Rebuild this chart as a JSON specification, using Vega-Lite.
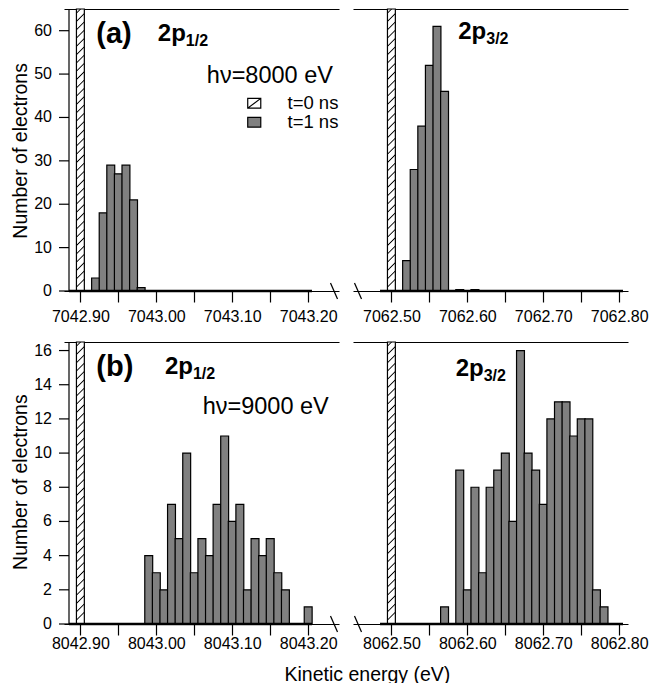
{
"$schema": "https://vega.github.io/schema/vega-lite/v6.json",
"background": "white",
"padding": {"left": 10, "top": 8, "right": 0, "bottom": 0},
"config": {
  "view": {"stroke": null},
  "font": "Liberation Sans",
  "axis": {"grid": false, "domainColor": "black", "tickColor": "black", "labelColor": "black", "titleColor": "black", "labelFont": "Liberation Sans", "titleFont": "Liberation Sans", "labelFontSize": 16, "titleFontSize": 19.5, "titleFontWeight": "normal", "domainWidth": 1.2, "tickWidth": 1.2, "labelFlush": false, "labelOverlap": false}
},
"datasets": {"h": [
  {"p":"a1","t":"t=0 ns","e":7042.90,"n":128},
  {"p":"a1","t":"t=1 ns","e":7042.92,"n":3},
  {"p":"a1","t":"t=1 ns","e":7042.93,"n":18},
  {"p":"a1","t":"t=1 ns","e":7042.94,"n":29},
  {"p":"a1","t":"t=1 ns","e":7042.95,"n":27},
  {"p":"a1","t":"t=1 ns","e":7042.96,"n":29},
  {"p":"a1","t":"t=1 ns","e":7042.97,"n":21},
  {"p":"a1","t":"t=1 ns","e":7042.98,"n":0.8},
  {"p":"a2","t":"t=0 ns","e":7062.50,"n":232},
  {"p":"a2","t":"t=1 ns","e":7062.52,"n":7},
  {"p":"a2","t":"t=1 ns","e":7062.53,"n":28},
  {"p":"a2","t":"t=1 ns","e":7062.54,"n":38},
  {"p":"a2","t":"t=1 ns","e":7062.55,"n":52},
  {"p":"a2","t":"t=1 ns","e":7062.56,"n":61},
  {"p":"a2","t":"t=1 ns","e":7062.57,"n":46},
  {"p":"a2","t":"t=1 ns","e":7062.59,"n":0.3},
  {"p":"a2","t":"t=1 ns","e":7062.61,"n":0.3},
  {"p":"b1","t":"t=0 ns","e":8042.90,"n":96},
  {"p":"b1","t":"t=1 ns","e":8042.99,"n":4},
  {"p":"b1","t":"t=1 ns","e":8043.00,"n":3},
  {"p":"b1","t":"t=1 ns","e":8043.01,"n":2},
  {"p":"b1","t":"t=1 ns","e":8043.02,"n":7},
  {"p":"b1","t":"t=1 ns","e":8043.03,"n":5},
  {"p":"b1","t":"t=1 ns","e":8043.04,"n":10},
  {"p":"b1","t":"t=1 ns","e":8043.05,"n":3},
  {"p":"b1","t":"t=1 ns","e":8043.06,"n":5},
  {"p":"b1","t":"t=1 ns","e":8043.07,"n":4},
  {"p":"b1","t":"t=1 ns","e":8043.08,"n":7},
  {"p":"b1","t":"t=1 ns","e":8043.09,"n":11},
  {"p":"b1","t":"t=1 ns","e":8043.10,"n":6},
  {"p":"b1","t":"t=1 ns","e":8043.11,"n":7},
  {"p":"b1","t":"t=1 ns","e":8043.12,"n":2},
  {"p":"b1","t":"t=1 ns","e":8043.13,"n":5},
  {"p":"b1","t":"t=1 ns","e":8043.14,"n":4},
  {"p":"b1","t":"t=1 ns","e":8043.15,"n":5},
  {"p":"b1","t":"t=1 ns","e":8043.16,"n":3},
  {"p":"b1","t":"t=1 ns","e":8043.17,"n":2},
  {"p":"b1","t":"t=1 ns","e":8043.20,"n":1},
  {"p":"b2","t":"t=0 ns","e":8062.50,"n":174},
  {"p":"b2","t":"t=1 ns","e":8062.57,"n":1},
  {"p":"b2","t":"t=1 ns","e":8062.59,"n":9},
  {"p":"b2","t":"t=1 ns","e":8062.60,"n":2},
  {"p":"b2","t":"t=1 ns","e":8062.61,"n":8},
  {"p":"b2","t":"t=1 ns","e":8062.62,"n":3},
  {"p":"b2","t":"t=1 ns","e":8062.63,"n":8},
  {"p":"b2","t":"t=1 ns","e":8062.64,"n":9},
  {"p":"b2","t":"t=1 ns","e":8062.65,"n":10},
  {"p":"b2","t":"t=1 ns","e":8062.66,"n":6},
  {"p":"b2","t":"t=1 ns","e":8062.67,"n":16},
  {"p":"b2","t":"t=1 ns","e":8062.68,"n":10},
  {"p":"b2","t":"t=1 ns","e":8062.69,"n":9},
  {"p":"b2","t":"t=1 ns","e":8062.70,"n":7},
  {"p":"b2","t":"t=1 ns","e":8062.71,"n":12},
  {"p":"b2","t":"t=1 ns","e":8062.72,"n":13},
  {"p":"b2","t":"t=1 ns","e":8062.73,"n":13},
  {"p":"b2","t":"t=1 ns","e":8062.74,"n":11},
  {"p":"b2","t":"t=1 ns","e":8062.75,"n":12},
  {"p":"b2","t":"t=1 ns","e":8062.76,"n":12},
  {"p":"b2","t":"t=1 ns","e":8062.77,"n":2},
  {"p":"b2","t":"t=1 ns","e":8062.78,"n":1}
]},
"width": 564,
"height": 615,
"data": {"name": "h"},
"resolve": {"scale": {"x": "independent", "y": "independent"}, "axis": {"x": "independent", "y": "independent"}},
"layer": [
 {"layer": [
   {"transform": [{"filter": "datum.p == 'a1' && datum.t == 't=1 ns'"}],
    "mark": {"type": "bar", "orient": "vertical", "width": 7.9, "stroke": "black", "strokeWidth": 1.2, "fill": "#808080"},
    "encoding": {
     "x": {"field": "e", "type": "quantitative", "scale": {"domain": [7042.885, 7043.234], "range": [0, 275], "nice": false, "zero": false},
           "axis": {"orient": "bottom", "offset": -333, "values": [7042.9, 7042.95, 7043.0, 7043.05, 7043.1, 7043.15, 7043.2], "labelExpr": "round(datum.value*100)%10==0 ? format(datum.value,'.2f') : ''", "title": null, "tickSize": 11, "labelPadding": 6}},
     "y": {"field": "n", "type": "quantitative", "scale": {"domain": [0, 65], "range": [282, 0], "nice": false, "zero": true, "clamp": true}, "axis": null},
     "color": {"field": "t", "type": "nominal", "scale": {"domain": ["t=0 ns", "t=1 ns"], "range": ["#ffffff", "#808080"]},
               "legend": {"orient": "none", "legendX": 181, "legendY": 85, "title": null, "padding": 0, "symbolType": "M-1,-0.75H1V0.75H-1Z", "symbolSize": 170, "symbolStrokeColor": "black", "symbolStrokeWidth": 1.2, "labelFontSize": 18.5, "labelFont": "Liberation Sans", "labelColor": "black", "labelOffset": 24, "rowPadding": -1,
                 "encoding": {"symbols": {"stroke": {"value": "black"}, "strokeWidth": {"value": 1.2},
                   "shape": {"condition": {"test": "datum.value == 't=0 ns'", "value": "M-1,-0.75H1V0.75H-1Z M-1,0.75L1,-0.75"}, "value": "M-1,-0.75H1V0.75H-1Z"},
                   "fill": {"condition": {"test": "datum.value == 't=0 ns'", "value": "#ffffff"}, "value": "#808080"}}}}}
    }},
   {"transform": [{"filter": "datum.p == 'a1' && datum.t == 't=0 ns'"}],
    "mark": {"type": "bar", "orient": "vertical", "width": 7.9, "stroke": "black", "strokeWidth": 1.2,
      "fill": {"gradient": "linear", "x1": 0, "y1": 0, "x2": 0.028, "y2": 1, "stops": [{"offset":0,"color":"#fff"},{"offset":0.0102,"color":"#fff"},{"offset":0.0147,"color":"#000"},{"offset":0.0192,"color":"#fff"},{"offset":0.0396,"color":"#fff"},{"offset":0.0441,"color":"#000"},{"offset":0.0486,"color":"#fff"},{"offset":0.0690,"color":"#fff"},{"offset":0.0735,"color":"#000"},{"offset":0.0780,"color":"#fff"},{"offset":0.0984,"color":"#fff"},{"offset":0.1029,"color":"#000"},{"offset":0.1074,"color":"#fff"},{"offset":0.1279,"color":"#fff"},{"offset":0.1324,"color":"#000"},{"offset":0.1369,"color":"#fff"},{"offset":0.1573,"color":"#fff"},{"offset":0.1618,"color":"#000"},{"offset":0.1663,"color":"#fff"},{"offset":0.1867,"color":"#fff"},{"offset":0.1912,"color":"#000"},{"offset":0.1957,"color":"#fff"},{"offset":0.2161,"color":"#fff"},{"offset":0.2206,"color":"#000"},{"offset":0.2251,"color":"#fff"},{"offset":0.2455,"color":"#fff"},{"offset":0.25,"color":"#000"},{"offset":0.2545,"color":"#fff"},{"offset":0.2749,"color":"#fff"},{"offset":0.2794,"color":"#000"},{"offset":0.2839,"color":"#fff"},{"offset":0.3043,"color":"#fff"},{"offset":0.3088,"color":"#000"},{"offset":0.3133,"color":"#fff"},{"offset":0.3337,"color":"#fff"},{"offset":0.3382,"color":"#000"},{"offset":0.3427,"color":"#fff"},{"offset":0.3631,"color":"#fff"},{"offset":0.3676,"color":"#000"},{"offset":0.3721,"color":"#fff"},{"offset":0.3926,"color":"#fff"},{"offset":0.3971,"color":"#000"},{"offset":0.4016,"color":"#fff"},{"offset":0.4220,"color":"#fff"},{"offset":0.4265,"color":"#000"},{"offset":0.4310,"color":"#fff"},{"offset":0.4514,"color":"#fff"},{"offset":0.4559,"color":"#000"},{"offset":0.4604,"color":"#fff"},{"offset":0.4808,"color":"#fff"},{"offset":0.4853,"color":"#000"},{"offset":0.4898,"color":"#fff"},{"offset":0.5102,"color":"#fff"},{"offset":0.5147,"color":"#000"},{"offset":0.5192,"color":"#fff"},{"offset":0.5396,"color":"#fff"},{"offset":0.5441,"color":"#000"},{"offset":0.5486,"color":"#fff"},{"offset":0.5690,"color":"#fff"},{"offset":0.5735,"color":"#000"},{"offset":0.5780,"color":"#fff"},{"offset":0.5984,"color":"#fff"},{"offset":0.6029,"color":"#000"},{"offset":0.6074,"color":"#fff"},{"offset":0.6279,"color":"#fff"},{"offset":0.6324,"color":"#000"},{"offset":0.6369,"color":"#fff"},{"offset":0.6573,"color":"#fff"},{"offset":0.6618,"color":"#000"},{"offset":0.6663,"color":"#fff"},{"offset":0.6867,"color":"#fff"},{"offset":0.6912,"color":"#000"},{"offset":0.6957,"color":"#fff"},{"offset":0.7161,"color":"#fff"},{"offset":0.7206,"color":"#000"},{"offset":0.7251,"color":"#fff"},{"offset":0.7455,"color":"#fff"},{"offset":0.75,"color":"#000"},{"offset":0.7545,"color":"#fff"},{"offset":0.7749,"color":"#fff"},{"offset":0.7794,"color":"#000"},{"offset":0.7839,"color":"#fff"},{"offset":0.8043,"color":"#fff"},{"offset":0.8088,"color":"#000"},{"offset":0.8133,"color":"#fff"},{"offset":0.8337,"color":"#fff"},{"offset":0.8382,"color":"#000"},{"offset":0.8427,"color":"#fff"},{"offset":0.8631,"color":"#fff"},{"offset":0.8676,"color":"#000"},{"offset":0.8721,"color":"#fff"},{"offset":0.8926,"color":"#fff"},{"offset":0.8971,"color":"#000"},{"offset":0.9016,"color":"#fff"},{"offset":0.9220,"color":"#fff"},{"offset":0.9265,"color":"#000"},{"offset":0.9310,"color":"#fff"},{"offset":0.9514,"color":"#fff"},{"offset":0.9559,"color":"#000"},{"offset":0.9604,"color":"#fff"},{"offset":0.9808,"color":"#fff"},{"offset":0.9853,"color":"#000"},{"offset":0.9898,"color":"#fff"},{"offset":1,"color":"#fff"}]}},
    "encoding": {
     "x": {"field": "e", "type": "quantitative", "axis": {"orient": "top", "labels": false, "ticks": false, "title": null, "domain": true}},
     "y": {"field": "n", "type": "quantitative", "axis": null}
    }},
   {"data": {"values": [{}]}, "mark": {"type": "rule", "strokeWidth": 1.2, "color": "black"},
    "encoding": {"x": {"datum": 7042.885, "type": "quantitative", "axis": null}, "y": {"datum": 0, "type": "quantitative", "axis": null}, "y2": {"datum": 65}}},
   {"data": {"values": [{"v":0},{"v":10},{"v":20},{"v":30},{"v":40},{"v":50},{"v":60}]}, "mark": {"type": "rule", "strokeWidth": 1.2, "color": "black", "xOffset": -10},
    "encoding": {"x": {"datum": 7042.885, "type": "quantitative", "axis": null}, "x2": {"datum": 7042.885}, "y": {"field": "v", "type": "quantitative", "axis": null}}},
   {"data": {"values": [{"v":0},{"v":10},{"v":20},{"v":30},{"v":40},{"v":50},{"v":60}]}, "mark": {"type": "text", "align": "right", "baseline": "middle", "fontSize": 16, "color": "black", "xOffset": -17},
    "encoding": {"x": {"datum": 7042.885, "type": "quantitative", "axis": null}, "y": {"field": "v", "type": "quantitative", "axis": null}, "text": {"field": "v", "type": "quantitative", "format": "d"}}},
   {"data": {"values": [{}]}, "mark": {"type": "text", "text": "Number of electrons", "angle": 270, "align": "center", "baseline": "alphabetic", "fontSize": 19.5, "color": "black", "xOffset": -42},
    "encoding": {"x": {"datum": 7042.885, "type": "quantitative", "axis": null}, "y": {"datum": 32.3, "type": "quantitative", "axis": null}}},
   {"data": {"values": [{}]}, "mark": {"type": "rule", "strokeWidth": 2.5, "color": "black"},
    "encoding": {"x": {"datum": 7042.885, "type": "quantitative", "axis": null}, "x2": {"datum": 7043.205}, "y": {"datum": 0, "type": "quantitative", "axis": null}}},
   {"data": {"values": [{}]}, "mark": {"type": "rule", "strokeWidth": 1.2, "color": "black", "xOffset": -3.5, "x2Offset": 3.5, "yOffset": -8, "y2Offset": 8},
    "encoding": {"x": {"datum": 7043.234, "type": "quantitative", "axis": null}, "x2": {"datum": 7043.234}, "y": {"datum": 0, "type": "quantitative", "axis": null}, "y2": {"datum": 0}}},
   {"data": {"values": [{}]}, "mark": {"type": "text", "text": "(a)", "fontSize": 29, "fontWeight": "bold", "align": "left", "baseline": "middle"},
    "encoding": {"x": {"datum": 7042.921, "type": "quantitative", "axis": null}, "y": {"datum": 59.2, "type": "quantitative", "axis": null}}},
   {"data": {"values": [{}]}, "mark": {"type": "text", "text": "2p", "fontSize": 24, "fontWeight": "bold", "align": "left", "baseline": "alphabetic"},
    "encoding": {"x": {"datum": 7043.002, "type": "quantitative", "axis": null}, "y": {"datum": 57.6, "type": "quantitative", "axis": null}}},
   {"data": {"values": [{}]}, "mark": {"type": "text", "text": "1/2", "fontSize": 16, "fontWeight": "bold", "align": "left", "baseline": "alphabetic", "dx": 28, "dy": 5},
    "encoding": {"x": {"datum": 7043.002, "type": "quantitative", "axis": null}, "y": {"datum": 57.6, "type": "quantitative", "axis": null}}},
   {"data": {"values": [{}]}, "mark": {"type": "text", "text": "hν=8000 eV", "fontSize": 23.5, "align": "left", "baseline": "alphabetic"},
    "encoding": {"x": {"datum": 7043.0665, "type": "quantitative", "axis": null}, "y": {"datum": 47.9, "type": "quantitative", "axis": null}}}
 ]},
 {"layer": [
   {"transform": [{"filter": "datum.p == 'a2' && datum.t == 't=1 ns'"}],
    "mark": {"type": "bar", "orient": "vertical", "width": 7.9, "stroke": "black", "strokeWidth": 1.2, "fill": "#808080"},
    "encoding": {
     "x": {"field": "e", "type": "quantitative", "scale": {"domain": [7062.456, 7062.805], "range": [289, 564], "nice": false, "zero": false},
           "axis": {"orient": "bottom", "offset": -333, "values": [7062.5, 7062.55, 7062.6, 7062.65, 7062.7, 7062.75, 7062.8], "labelExpr": "round(datum.value*100)%10==0 ? format(datum.value,'.2f') : ''", "title": null, "tickSize": 11, "labelPadding": 6}},
     "y": {"field": "n", "type": "quantitative", "scale": {"domain": [0, 65], "range": [282, 0], "nice": false, "zero": true, "clamp": true},
           "axis": {"orient": "right", "labels": false, "ticks": false, "title": null, "domain": true}}
    }},
   {"transform": [{"filter": "datum.p == 'a2' && datum.t == 't=0 ns'"}],
    "mark": {"type": "bar", "orient": "vertical", "width": 7.9, "stroke": "black", "strokeWidth": 1.2,
      "fill": {"gradient": "linear", "x1": 0, "y1": 0, "x2": 0.028, "y2": 1, "stops": [{"offset":0,"color":"#fff"},{"offset":0.0102,"color":"#fff"},{"offset":0.0147,"color":"#000"},{"offset":0.0192,"color":"#fff"},{"offset":0.0396,"color":"#fff"},{"offset":0.0441,"color":"#000"},{"offset":0.0486,"color":"#fff"},{"offset":0.0690,"color":"#fff"},{"offset":0.0735,"color":"#000"},{"offset":0.0780,"color":"#fff"},{"offset":0.0984,"color":"#fff"},{"offset":0.1029,"color":"#000"},{"offset":0.1074,"color":"#fff"},{"offset":0.1279,"color":"#fff"},{"offset":0.1324,"color":"#000"},{"offset":0.1369,"color":"#fff"},{"offset":0.1573,"color":"#fff"},{"offset":0.1618,"color":"#000"},{"offset":0.1663,"color":"#fff"},{"offset":0.1867,"color":"#fff"},{"offset":0.1912,"color":"#000"},{"offset":0.1957,"color":"#fff"},{"offset":0.2161,"color":"#fff"},{"offset":0.2206,"color":"#000"},{"offset":0.2251,"color":"#fff"},{"offset":0.2455,"color":"#fff"},{"offset":0.25,"color":"#000"},{"offset":0.2545,"color":"#fff"},{"offset":0.2749,"color":"#fff"},{"offset":0.2794,"color":"#000"},{"offset":0.2839,"color":"#fff"},{"offset":0.3043,"color":"#fff"},{"offset":0.3088,"color":"#000"},{"offset":0.3133,"color":"#fff"},{"offset":0.3337,"color":"#fff"},{"offset":0.3382,"color":"#000"},{"offset":0.3427,"color":"#fff"},{"offset":0.3631,"color":"#fff"},{"offset":0.3676,"color":"#000"},{"offset":0.3721,"color":"#fff"},{"offset":0.3926,"color":"#fff"},{"offset":0.3971,"color":"#000"},{"offset":0.4016,"color":"#fff"},{"offset":0.4220,"color":"#fff"},{"offset":0.4265,"color":"#000"},{"offset":0.4310,"color":"#fff"},{"offset":0.4514,"color":"#fff"},{"offset":0.4559,"color":"#000"},{"offset":0.4604,"color":"#fff"},{"offset":0.4808,"color":"#fff"},{"offset":0.4853,"color":"#000"},{"offset":0.4898,"color":"#fff"},{"offset":0.5102,"color":"#fff"},{"offset":0.5147,"color":"#000"},{"offset":0.5192,"color":"#fff"},{"offset":0.5396,"color":"#fff"},{"offset":0.5441,"color":"#000"},{"offset":0.5486,"color":"#fff"},{"offset":0.5690,"color":"#fff"},{"offset":0.5735,"color":"#000"},{"offset":0.5780,"color":"#fff"},{"offset":0.5984,"color":"#fff"},{"offset":0.6029,"color":"#000"},{"offset":0.6074,"color":"#fff"},{"offset":0.6279,"color":"#fff"},{"offset":0.6324,"color":"#000"},{"offset":0.6369,"color":"#fff"},{"offset":0.6573,"color":"#fff"},{"offset":0.6618,"color":"#000"},{"offset":0.6663,"color":"#fff"},{"offset":0.6867,"color":"#fff"},{"offset":0.6912,"color":"#000"},{"offset":0.6957,"color":"#fff"},{"offset":0.7161,"color":"#fff"},{"offset":0.7206,"color":"#000"},{"offset":0.7251,"color":"#fff"},{"offset":0.7455,"color":"#fff"},{"offset":0.75,"color":"#000"},{"offset":0.7545,"color":"#fff"},{"offset":0.7749,"color":"#fff"},{"offset":0.7794,"color":"#000"},{"offset":0.7839,"color":"#fff"},{"offset":0.8043,"color":"#fff"},{"offset":0.8088,"color":"#000"},{"offset":0.8133,"color":"#fff"},{"offset":0.8337,"color":"#fff"},{"offset":0.8382,"color":"#000"},{"offset":0.8427,"color":"#fff"},{"offset":0.8631,"color":"#fff"},{"offset":0.8676,"color":"#000"},{"offset":0.8721,"color":"#fff"},{"offset":0.8926,"color":"#fff"},{"offset":0.8971,"color":"#000"},{"offset":0.9016,"color":"#fff"},{"offset":0.9220,"color":"#fff"},{"offset":0.9265,"color":"#000"},{"offset":0.9310,"color":"#fff"},{"offset":0.9514,"color":"#fff"},{"offset":0.9559,"color":"#000"},{"offset":0.9604,"color":"#fff"},{"offset":0.9808,"color":"#fff"},{"offset":0.9853,"color":"#000"},{"offset":0.9898,"color":"#fff"},{"offset":1,"color":"#fff"}]}},
    "encoding": {
     "x": {"field": "e", "type": "quantitative", "axis": {"orient": "top", "labels": false, "ticks": false, "title": null, "domain": true}},
     "y": {"field": "n", "type": "quantitative", "axis": null}
    }},
   {"data": {"values": [{}]}, "mark": {"type": "rule", "strokeWidth": 2.5, "color": "black"},
    "encoding": {"x": {"datum": 7062.485, "type": "quantitative", "axis": null}, "x2": {"datum": 7062.805}, "y": {"datum": 0, "type": "quantitative", "axis": null}}},
   {"data": {"values": [{}]}, "mark": {"type": "rule", "strokeWidth": 1.2, "color": "black", "xOffset": -3.5, "x2Offset": 3.5, "yOffset": -8, "y2Offset": 8},
    "encoding": {"x": {"datum": 7062.456, "type": "quantitative", "axis": null}, "x2": {"datum": 7062.456}, "y": {"datum": 0, "type": "quantitative", "axis": null}, "y2": {"datum": 0}}},
   {"data": {"values": [{}]}, "mark": {"type": "text", "text": "2p", "fontSize": 24, "fontWeight": "bold", "align": "left", "baseline": "alphabetic"},
    "encoding": {"x": {"datum": 7062.588, "type": "quantitative", "axis": null}, "y": {"datum": 58.1, "type": "quantitative", "axis": null}}},
   {"data": {"values": [{}]}, "mark": {"type": "text", "text": "3/2", "fontSize": 16, "fontWeight": "bold", "align": "left", "baseline": "alphabetic", "dx": 28, "dy": 5},
    "encoding": {"x": {"datum": 7062.588, "type": "quantitative", "axis": null}, "y": {"datum": 58.1, "type": "quantitative", "axis": null}}}
 ]},
 {"layer": [
   {"transform": [{"filter": "datum.p == 'b1' && datum.t == 't=1 ns'"}],
    "mark": {"type": "bar", "orient": "vertical", "width": 7.9, "stroke": "black", "strokeWidth": 1.2, "fill": "#808080"},
    "encoding": {
     "x": {"field": "e", "type": "quantitative", "scale": {"domain": [8042.885, 8043.234], "range": [0, 275], "nice": false, "zero": false},
           "axis": {"orient": "bottom", "values": [8042.9, 8042.95, 8043.0, 8043.05, 8043.1, 8043.15, 8043.2], "labelExpr": "round(datum.value*100)%10==0 ? format(datum.value,'.2f') : ''", "title": "Kinetic energy (eV)", "titleAnchor": "start", "titleAlign": "left", "titleX": 220, "titleY": 56, "titleBaseline": "alphabetic", "tickSize": 11, "labelPadding": 0}},
     "y": {"field": "n", "type": "quantitative", "scale": {"domain": [0, 16.5], "range": [615, 333], "nice": false, "zero": true, "clamp": true}, "axis": null}
    }},
   {"transform": [{"filter": "datum.p == 'b1' && datum.t == 't=0 ns'"}],
    "mark": {"type": "bar", "orient": "vertical", "width": 7.9, "stroke": "black", "strokeWidth": 1.2,
      "fill": {"gradient": "linear", "x1": 0, "y1": 0, "x2": 0.028, "y2": 1, "stops": [{"offset":0,"color":"#fff"},{"offset":0.0102,"color":"#fff"},{"offset":0.0147,"color":"#000"},{"offset":0.0192,"color":"#fff"},{"offset":0.0396,"color":"#fff"},{"offset":0.0441,"color":"#000"},{"offset":0.0486,"color":"#fff"},{"offset":0.0690,"color":"#fff"},{"offset":0.0735,"color":"#000"},{"offset":0.0780,"color":"#fff"},{"offset":0.0984,"color":"#fff"},{"offset":0.1029,"color":"#000"},{"offset":0.1074,"color":"#fff"},{"offset":0.1279,"color":"#fff"},{"offset":0.1324,"color":"#000"},{"offset":0.1369,"color":"#fff"},{"offset":0.1573,"color":"#fff"},{"offset":0.1618,"color":"#000"},{"offset":0.1663,"color":"#fff"},{"offset":0.1867,"color":"#fff"},{"offset":0.1912,"color":"#000"},{"offset":0.1957,"color":"#fff"},{"offset":0.2161,"color":"#fff"},{"offset":0.2206,"color":"#000"},{"offset":0.2251,"color":"#fff"},{"offset":0.2455,"color":"#fff"},{"offset":0.25,"color":"#000"},{"offset":0.2545,"color":"#fff"},{"offset":0.2749,"color":"#fff"},{"offset":0.2794,"color":"#000"},{"offset":0.2839,"color":"#fff"},{"offset":0.3043,"color":"#fff"},{"offset":0.3088,"color":"#000"},{"offset":0.3133,"color":"#fff"},{"offset":0.3337,"color":"#fff"},{"offset":0.3382,"color":"#000"},{"offset":0.3427,"color":"#fff"},{"offset":0.3631,"color":"#fff"},{"offset":0.3676,"color":"#000"},{"offset":0.3721,"color":"#fff"},{"offset":0.3926,"color":"#fff"},{"offset":0.3971,"color":"#000"},{"offset":0.4016,"color":"#fff"},{"offset":0.4220,"color":"#fff"},{"offset":0.4265,"color":"#000"},{"offset":0.4310,"color":"#fff"},{"offset":0.4514,"color":"#fff"},{"offset":0.4559,"color":"#000"},{"offset":0.4604,"color":"#fff"},{"offset":0.4808,"color":"#fff"},{"offset":0.4853,"color":"#000"},{"offset":0.4898,"color":"#fff"},{"offset":0.5102,"color":"#fff"},{"offset":0.5147,"color":"#000"},{"offset":0.5192,"color":"#fff"},{"offset":0.5396,"color":"#fff"},{"offset":0.5441,"color":"#000"},{"offset":0.5486,"color":"#fff"},{"offset":0.5690,"color":"#fff"},{"offset":0.5735,"color":"#000"},{"offset":0.5780,"color":"#fff"},{"offset":0.5984,"color":"#fff"},{"offset":0.6029,"color":"#000"},{"offset":0.6074,"color":"#fff"},{"offset":0.6279,"color":"#fff"},{"offset":0.6324,"color":"#000"},{"offset":0.6369,"color":"#fff"},{"offset":0.6573,"color":"#fff"},{"offset":0.6618,"color":"#000"},{"offset":0.6663,"color":"#fff"},{"offset":0.6867,"color":"#fff"},{"offset":0.6912,"color":"#000"},{"offset":0.6957,"color":"#fff"},{"offset":0.7161,"color":"#fff"},{"offset":0.7206,"color":"#000"},{"offset":0.7251,"color":"#fff"},{"offset":0.7455,"color":"#fff"},{"offset":0.75,"color":"#000"},{"offset":0.7545,"color":"#fff"},{"offset":0.7749,"color":"#fff"},{"offset":0.7794,"color":"#000"},{"offset":0.7839,"color":"#fff"},{"offset":0.8043,"color":"#fff"},{"offset":0.8088,"color":"#000"},{"offset":0.8133,"color":"#fff"},{"offset":0.8337,"color":"#fff"},{"offset":0.8382,"color":"#000"},{"offset":0.8427,"color":"#fff"},{"offset":0.8631,"color":"#fff"},{"offset":0.8676,"color":"#000"},{"offset":0.8721,"color":"#fff"},{"offset":0.8926,"color":"#fff"},{"offset":0.8971,"color":"#000"},{"offset":0.9016,"color":"#fff"},{"offset":0.9220,"color":"#fff"},{"offset":0.9265,"color":"#000"},{"offset":0.9310,"color":"#fff"},{"offset":0.9514,"color":"#fff"},{"offset":0.9559,"color":"#000"},{"offset":0.9604,"color":"#fff"},{"offset":0.9808,"color":"#fff"},{"offset":0.9853,"color":"#000"},{"offset":0.9898,"color":"#fff"},{"offset":1,"color":"#fff"}]}},
    "encoding": {
     "x": {"field": "e", "type": "quantitative", "axis": {"orient": "top", "offset": -333, "labels": false, "ticks": false, "title": null, "domain": true}},
     "y": {"field": "n", "type": "quantitative", "axis": null}
    }},
   {"data": {"values": [{}]}, "mark": {"type": "rule", "strokeWidth": 1.2, "color": "black"},
    "encoding": {"x": {"datum": 8042.885, "type": "quantitative", "axis": null}, "y": {"datum": 0, "type": "quantitative", "axis": null}, "y2": {"datum": 16.5}}},
   {"data": {"values": [{"v":0},{"v":2},{"v":4},{"v":6},{"v":8},{"v":10},{"v":12},{"v":14},{"v":16}]}, "mark": {"type": "rule", "strokeWidth": 1.2, "color": "black", "xOffset": -10},
    "encoding": {"x": {"datum": 8042.885, "type": "quantitative", "axis": null}, "x2": {"datum": 8042.885}, "y": {"field": "v", "type": "quantitative", "axis": null}}},
   {"data": {"values": [{"v":0},{"v":2},{"v":4},{"v":6},{"v":8},{"v":10},{"v":12},{"v":14},{"v":16}]}, "mark": {"type": "text", "align": "right", "baseline": "middle", "fontSize": 16, "color": "black", "xOffset": -17},
    "encoding": {"x": {"datum": 8042.885, "type": "quantitative", "axis": null}, "y": {"field": "v", "type": "quantitative", "axis": null}, "text": {"field": "v", "type": "quantitative", "format": "d"}}},
   {"data": {"values": [{}]}, "mark": {"type": "text", "text": "Number of electrons", "angle": 270, "align": "center", "baseline": "alphabetic", "fontSize": 19.5, "color": "black", "xOffset": -42},
    "encoding": {"x": {"datum": 8042.885, "type": "quantitative", "axis": null}, "y": {"datum": 8.3, "type": "quantitative", "axis": null}}},
   {"data": {"values": [{}]}, "mark": {"type": "rule", "strokeWidth": 2.5, "color": "black"},
    "encoding": {"x": {"datum": 8042.885, "type": "quantitative", "axis": null}, "x2": {"datum": 8043.205}, "y": {"datum": 0, "type": "quantitative", "axis": null}}},
   {"data": {"values": [{}]}, "mark": {"type": "rule", "strokeWidth": 1.2, "color": "black", "xOffset": -3.5, "x2Offset": 3.5, "yOffset": -8, "y2Offset": 8},
    "encoding": {"x": {"datum": 8043.234, "type": "quantitative", "axis": null}, "x2": {"datum": 8043.234}, "y": {"datum": 0, "type": "quantitative", "axis": null}, "y2": {"datum": 0}}},
   {"data": {"values": [{}]}, "mark": {"type": "text", "text": "(b)", "fontSize": 29, "fontWeight": "bold", "align": "left", "baseline": "middle"},
    "encoding": {"x": {"datum": 8042.921, "type": "quantitative", "axis": null}, "y": {"datum": 15.05, "type": "quantitative", "axis": null}}},
   {"data": {"values": [{}]}, "mark": {"type": "text", "text": "2p", "fontSize": 24, "fontWeight": "bold", "align": "left", "baseline": "alphabetic"},
    "encoding": {"x": {"datum": 8043.0113, "type": "quantitative", "axis": null}, "y": {"datum": 14.6, "type": "quantitative", "axis": null}}},
   {"data": {"values": [{}]}, "mark": {"type": "text", "text": "1/2", "fontSize": 16, "fontWeight": "bold", "align": "left", "baseline": "alphabetic", "dx": 28, "dy": 5},
    "encoding": {"x": {"datum": 8043.0113, "type": "quantitative", "axis": null}, "y": {"datum": 14.6, "type": "quantitative", "axis": null}}},
   {"data": {"values": [{}]}, "mark": {"type": "text", "text": "hν=9000 eV", "fontSize": 23.5, "align": "left", "baseline": "alphabetic"},
    "encoding": {"x": {"datum": 8043.0610, "type": "quantitative", "axis": null}, "y": {"datum": 12.3, "type": "quantitative", "axis": null}}}
 ]},
 {"layer": [
   {"transform": [{"filter": "datum.p == 'b2' && datum.t == 't=1 ns'"}],
    "mark": {"type": "bar", "orient": "vertical", "width": 7.9, "stroke": "black", "strokeWidth": 1.2, "fill": "#808080"},
    "encoding": {
     "x": {"field": "e", "type": "quantitative", "scale": {"domain": [8062.456, 8062.805], "range": [289, 564], "nice": false, "zero": false},
           "axis": {"orient": "bottom", "values": [8062.5, 8062.55, 8062.6, 8062.65, 8062.7, 8062.75, 8062.8], "labelExpr": "round(datum.value*100)%10==0 ? format(datum.value,'.2f') : ''", "title": null, "tickSize": 11, "labelPadding": 0}},
     "y": {"field": "n", "type": "quantitative", "scale": {"domain": [0, 16.5], "range": [615, 333], "nice": false, "zero": true, "clamp": true},
           "axis": {"orient": "right", "labels": false, "ticks": false, "title": null, "domain": true}}
    }},
   {"transform": [{"filter": "datum.p == 'b2' && datum.t == 't=0 ns'"}],
    "mark": {"type": "bar", "orient": "vertical", "width": 7.9, "stroke": "black", "strokeWidth": 1.2,
      "fill": {"gradient": "linear", "x1": 0, "y1": 0, "x2": 0.028, "y2": 1, "stops": [{"offset":0,"color":"#fff"},{"offset":0.0102,"color":"#fff"},{"offset":0.0147,"color":"#000"},{"offset":0.0192,"color":"#fff"},{"offset":0.0396,"color":"#fff"},{"offset":0.0441,"color":"#000"},{"offset":0.0486,"color":"#fff"},{"offset":0.0690,"color":"#fff"},{"offset":0.0735,"color":"#000"},{"offset":0.0780,"color":"#fff"},{"offset":0.0984,"color":"#fff"},{"offset":0.1029,"color":"#000"},{"offset":0.1074,"color":"#fff"},{"offset":0.1279,"color":"#fff"},{"offset":0.1324,"color":"#000"},{"offset":0.1369,"color":"#fff"},{"offset":0.1573,"color":"#fff"},{"offset":0.1618,"color":"#000"},{"offset":0.1663,"color":"#fff"},{"offset":0.1867,"color":"#fff"},{"offset":0.1912,"color":"#000"},{"offset":0.1957,"color":"#fff"},{"offset":0.2161,"color":"#fff"},{"offset":0.2206,"color":"#000"},{"offset":0.2251,"color":"#fff"},{"offset":0.2455,"color":"#fff"},{"offset":0.25,"color":"#000"},{"offset":0.2545,"color":"#fff"},{"offset":0.2749,"color":"#fff"},{"offset":0.2794,"color":"#000"},{"offset":0.2839,"color":"#fff"},{"offset":0.3043,"color":"#fff"},{"offset":0.3088,"color":"#000"},{"offset":0.3133,"color":"#fff"},{"offset":0.3337,"color":"#fff"},{"offset":0.3382,"color":"#000"},{"offset":0.3427,"color":"#fff"},{"offset":0.3631,"color":"#fff"},{"offset":0.3676,"color":"#000"},{"offset":0.3721,"color":"#fff"},{"offset":0.3926,"color":"#fff"},{"offset":0.3971,"color":"#000"},{"offset":0.4016,"color":"#fff"},{"offset":0.4220,"color":"#fff"},{"offset":0.4265,"color":"#000"},{"offset":0.4310,"color":"#fff"},{"offset":0.4514,"color":"#fff"},{"offset":0.4559,"color":"#000"},{"offset":0.4604,"color":"#fff"},{"offset":0.4808,"color":"#fff"},{"offset":0.4853,"color":"#000"},{"offset":0.4898,"color":"#fff"},{"offset":0.5102,"color":"#fff"},{"offset":0.5147,"color":"#000"},{"offset":0.5192,"color":"#fff"},{"offset":0.5396,"color":"#fff"},{"offset":0.5441,"color":"#000"},{"offset":0.5486,"color":"#fff"},{"offset":0.5690,"color":"#fff"},{"offset":0.5735,"color":"#000"},{"offset":0.5780,"color":"#fff"},{"offset":0.5984,"color":"#fff"},{"offset":0.6029,"color":"#000"},{"offset":0.6074,"color":"#fff"},{"offset":0.6279,"color":"#fff"},{"offset":0.6324,"color":"#000"},{"offset":0.6369,"color":"#fff"},{"offset":0.6573,"color":"#fff"},{"offset":0.6618,"color":"#000"},{"offset":0.6663,"color":"#fff"},{"offset":0.6867,"color":"#fff"},{"offset":0.6912,"color":"#000"},{"offset":0.6957,"color":"#fff"},{"offset":0.7161,"color":"#fff"},{"offset":0.7206,"color":"#000"},{"offset":0.7251,"color":"#fff"},{"offset":0.7455,"color":"#fff"},{"offset":0.75,"color":"#000"},{"offset":0.7545,"color":"#fff"},{"offset":0.7749,"color":"#fff"},{"offset":0.7794,"color":"#000"},{"offset":0.7839,"color":"#fff"},{"offset":0.8043,"color":"#fff"},{"offset":0.8088,"color":"#000"},{"offset":0.8133,"color":"#fff"},{"offset":0.8337,"color":"#fff"},{"offset":0.8382,"color":"#000"},{"offset":0.8427,"color":"#fff"},{"offset":0.8631,"color":"#fff"},{"offset":0.8676,"color":"#000"},{"offset":0.8721,"color":"#fff"},{"offset":0.8926,"color":"#fff"},{"offset":0.8971,"color":"#000"},{"offset":0.9016,"color":"#fff"},{"offset":0.9220,"color":"#fff"},{"offset":0.9265,"color":"#000"},{"offset":0.9310,"color":"#fff"},{"offset":0.9514,"color":"#fff"},{"offset":0.9559,"color":"#000"},{"offset":0.9604,"color":"#fff"},{"offset":0.9808,"color":"#fff"},{"offset":0.9853,"color":"#000"},{"offset":0.9898,"color":"#fff"},{"offset":1,"color":"#fff"}]}},
    "encoding": {
     "x": {"field": "e", "type": "quantitative", "axis": {"orient": "top", "offset": -333, "labels": false, "ticks": false, "title": null, "domain": true}},
     "y": {"field": "n", "type": "quantitative", "axis": null}
    }},
   {"data": {"values": [{}]}, "mark": {"type": "rule", "strokeWidth": 2.5, "color": "black"},
    "encoding": {"x": {"datum": 8062.485, "type": "quantitative", "axis": null}, "x2": {"datum": 8062.805}, "y": {"datum": 0, "type": "quantitative", "axis": null}}},
   {"data": {"values": [{}]}, "mark": {"type": "rule", "strokeWidth": 1.2, "color": "black", "xOffset": -3.5, "x2Offset": 3.5, "yOffset": -8, "y2Offset": 8},
    "encoding": {"x": {"datum": 8062.456, "type": "quantitative", "axis": null}, "x2": {"datum": 8062.456}, "y": {"datum": 0, "type": "quantitative", "axis": null}, "y2": {"datum": 0}}},
   {"data": {"values": [{}]}, "mark": {"type": "text", "text": "2p", "fontSize": 24, "fontWeight": "bold", "align": "left", "baseline": "alphabetic"},
    "encoding": {"x": {"datum": 8062.5846, "type": "quantitative", "axis": null}, "y": {"datum": 14.5, "type": "quantitative", "axis": null}}},
   {"data": {"values": [{}]}, "mark": {"type": "text", "text": "3/2", "fontSize": 16, "fontWeight": "bold", "align": "left", "baseline": "alphabetic", "dx": 28, "dy": 5},
    "encoding": {"x": {"datum": 8062.5846, "type": "quantitative", "axis": null}, "y": {"datum": 14.5, "type": "quantitative", "axis": null}}}
 ]}
]
}
